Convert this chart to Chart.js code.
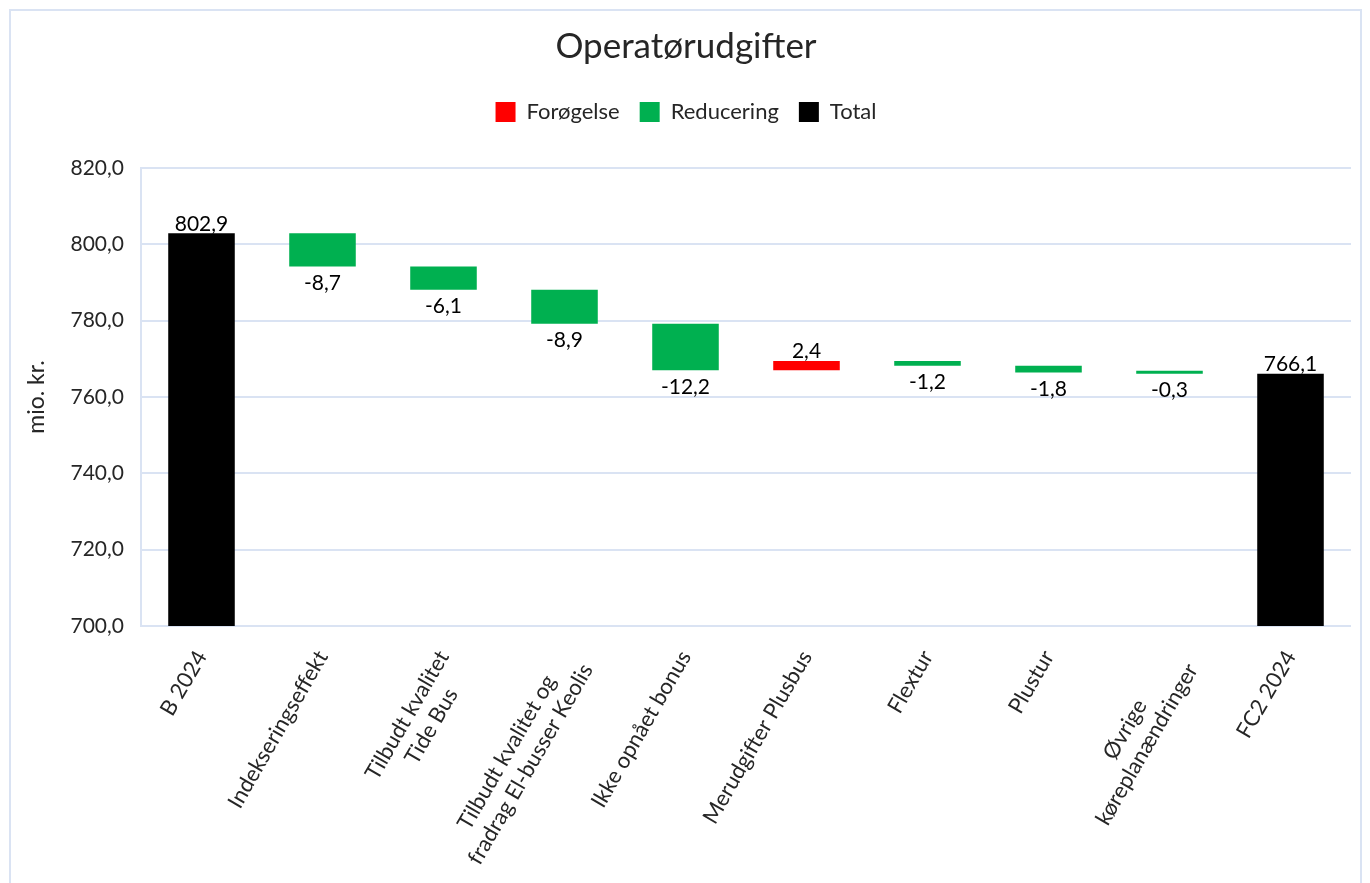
<!DOCTYPE html>
<html>
<head>
<meta charset="utf-8">
<script src="https://cdn.jsdelivr.net/npm/chart.js@4"></script>
<style>
    html, body { margin: 0; padding: 0; background: #fff; }
    #wrap { position: relative; width: 1370px; height: 883px; overflow: hidden; }
    #frame { position: absolute; left: 9px; top: 9px; width: 1353px; height: 900px; border: 2px solid #dae3f3; box-sizing: border-box; }
    canvas { position: absolute; left: 0; top: 0; }
</style>
</head>
<body>
<div id="wrap">
    <div id="frame"></div>
    <canvas id="waterfallChart" width="1370" height="883"></canvas>
</div>
<script>
// Data
const categories = [
    'B 2024',
    'Indekseringseffekt',
    ['Tilbudt kvalitet', 'Tide Bus'],
    ['Tilbudt kvalitet og', 'fradrag El-busser Keolis'],
    'Ikke opnået bonus',
    'Merudgifter Plusbus',
    'Flextur',
    'Plustur',
    ['Øvrige', 'køreplanændringer'],
    'FC2 2024'
];
const startTotal = 802.9;
const changes = [-8.7, -6.1, -8.9, -12.2, 2.4, -1.2, -1.8, -0.3];
const endTotal = 766.1;
const yTicks = { min: 700, max: 820, step: 20 };

const fontFamily = 'Lato, "Open Sans", sans-serif';
const textColor = '#262626';
const xFontSize = 22;
const fmt = v => v.toFixed(1).replace('.', ',');

// Bygger de flydende søjler
const increaseData = [], decreaseData = [], totalData = [], labelValues = [];
totalData.push([0, startTotal]); increaseData.push(null); decreaseData.push(null);
labelValues.push(startTotal);
let running = startTotal;
changes.forEach(c => {
    const from = running;
    running = Math.round((running + c) * 10) / 10;
    if (c >= 0) { increaseData.push([from, running]); decreaseData.push(null); }
    else { decreaseData.push([from, running]); increaseData.push(null); }
    totalData.push(null);
    labelValues.push(c);
});
totalData.push([0, endTotal]); increaseData.push(null); decreaseData.push(null);
labelValues.push(endTotal);

// Centrerer linjer i etiketter med flere linjer (Chart.js højrestiller skrå etiketter)
const measureCtx = document.createElement('canvas').getContext('2d');
measureCtx.font = xFontSize + 'px ' + fontFamily;
function centerLines(label) {
    if (!Array.isArray(label)) return label;
    const widths = label.map(l => measureCtx.measureText(l).width);
    const maxW = Math.max(...widths);
    const sp = measureCtx.measureText('\u00a0').width;
    return label.map((l, k) => l + '\u00a0'.repeat(Math.round((maxW - widths[k]) / 2 / sp)));
}

// Værdietiketter
const valueLabels = {
    id: 'valueLabels',
    afterDatasetsDraw(chart) {
        const ctx = chart.ctx;
        ctx.save();
        ctx.font = '21px ' + fontFamily;
        ctx.fillStyle = '#000';
        ctx.textAlign = 'center';
        chart.data.datasets.forEach((ds, di) => {
            const meta = chart.getDatasetMeta(di);
            meta.data.forEach((bar, i) => {
                if (ds.data[i] == null) return;
                const top = Math.min(bar.y, bar.base);
                const bottom = Math.max(bar.y, bar.base);
                const v = labelValues[i];
                if (ds.kind === 'decrease') {
                    ctx.textBaseline = 'top';
                    ctx.fillText(fmt(v), bar.x, bottom + 6);
                } else {
                    ctx.textBaseline = 'bottom';
                    ctx.fillText(fmt(v), bar.x, top + 1);
                }
            });
        });
        ctx.restore();
    }
};

let ctx = document.getElementById('waterfallChart').getContext('2d');
let waterfallChart = new Chart(ctx, {
    type: 'bar',
    data: {
        labels: categories,
        datasets: [
            { label: 'Forøgelse', kind: 'increase', data: increaseData, backgroundColor: '#ff0000' },
            { label: 'Reducering', kind: 'decrease', data: decreaseData, backgroundColor: '#00b050', minBarLength: 3 },
            { label: 'Total', kind: 'total', data: totalData, backgroundColor: '#000000' }
        ]
    },
    options: {
        responsive: false,
        animation: false,
        devicePixelRatio: 1,
        layout: { padding: { top: 12, left: 21, right: 19, bottom: 0 } },
        datasets: { bar: { grouped: false, barPercentage: 0.55, categoryPercentage: 1 } },
        plugins: {
            title: {
                display: true,
                text: 'Operatørudgifter',
                color: textColor,
                font: { family: fontFamily, size: 35, weight: 'normal' },
                padding: { top: 14, bottom: 13 }
            },
            legend: {
                display: true,
                labels: {
                    color: textColor,
                    font: { family: fontFamily, size: 22 },
                    boxWidth: 20,
                    boxHeight: 20,
                    padding: 20
                }
            },
            tooltip: { enabled: false }
        },
        scales: {
            x: {
                grid: { display: false },
                border: { display: false },
                ticks: {
                    color: textColor,
                    font: { family: fontFamily, size: xFontSize },
                    minRotation: 60,
                    maxRotation: 60,
                    padding: 12,
                    autoSkip: false,
                    callback: (v, i) => centerLines(categories[i])
                },
                afterFit: s => { s.height = 257; }
            },
            // luft mellem forklaring og plotområde
            spacer: {
                type: 'category',
                position: 'top',
                grid: { display: false },
                border: { display: false },
                ticks: { display: false },
                afterFit: s => { s.height = 35; }
            },
            y: {
                min: yTicks.min,
                max: yTicks.max,
                grid: { color: '#dae3f3', lineWidth: 2, drawTicks: false },
                border: { display: true, color: '#dae3f3', width: 2 },
                ticks: {
                    stepSize: yTicks.step,
                    color: textColor,
                    font: { family: fontFamily, size: 21 },
                    padding: 17,
                    callback: v => fmt(v)
                },
                title: {
                    display: true,
                    text: 'mio. kr.',
                    color: textColor,
                    font: { family: fontFamily, size: 23 },
                    padding: { top: 2, bottom: 0 }
                },
                afterFit: s => { s.width = 120; }
            }
        }
    },
    plugins: [valueLabels]
});
</script>
</body>
</html>
